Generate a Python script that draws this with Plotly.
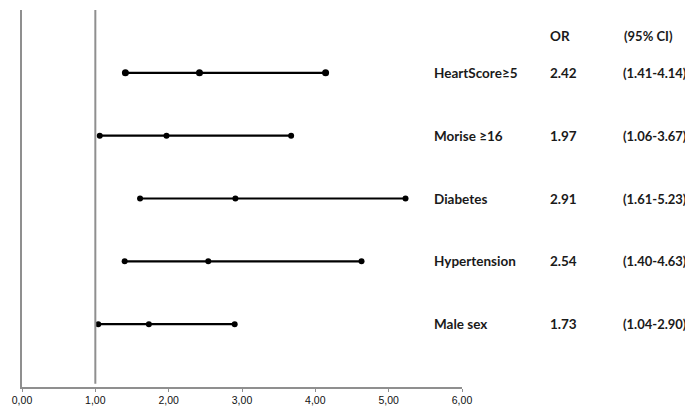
import plotly.graph_objects as go

labels = ["HeartScore≥5", "Morise ≥16", "Diabetes", "Hypertension", "Male sex"]
odds = [2.42, 1.97, 2.91, 2.54, 1.73]
ci_low = [1.41, 1.06, 1.61, 1.40, 1.04]
ci_high = [4.14, 3.67, 5.23, 4.63, 2.90]
or_text = ["2.42", "1.97", "2.91", "2.54", "1.73"]
ci_text = ["(1.41-4.14)", "(1.06-3.67)", "(1.61-5.23)", "(1.40-4.63)", "(1.04-2.90)"]
tick_vals = [0, 1, 2, 3, 4, 5, 6]
tick_text = ["0,00", "1,00", "2,00", "3,00", "4,00", "5,00", "6,00"]

n = len(labels)
rows = [n - i for i in range(n)]

fig = go.Figure()
for i in range(n):
    fig.add_trace(go.Scatter(
        x=[ci_low[i], odds[i], ci_high[i]], y=[rows[i]] * 3,
        mode="lines+markers",
        line=dict(color="black", width=2.2),
        marker=dict(color="black", size=7 if i == 0 else 6),
        showlegend=False, hoverinfo="skip", cliponaxis=False,
    ))

fig.add_shape(type="line", x0=1, x1=1, y0=0.05, y1=6, xref="x", yref="y",
              line=dict(color="#8f8f8f", width=2))

tfont = dict(family="Lato, Carlito, Calibri, sans-serif", size=13.5, color="#1a1a1a")
cfont = dict(family="Lato, Carlito, Calibri, sans-serif", size=13, color="#1a1a1a")
PW = 440.0
X0 = 22.0
for i in range(n):
    fig.add_annotation(x=(432 - X0) / PW, y=rows[i], xref="paper", yref="y",
                       text="<b>%s</b>" % labels[i], showarrow=False,
                       xanchor="left", yanchor="middle", font=tfont)
    fig.add_annotation(x=(548 - X0) / PW, y=rows[i], xref="paper", yref="y",
                       text="<b>%s</b>" % or_text[i], showarrow=False,
                       xanchor="left", yanchor="middle", font=tfont)
    fig.add_annotation(x=(689 - X0) / PW, y=rows[i], xref="paper", yref="y",
                       text="<b>%s</b>" % ci_text[i], showarrow=False,
                       xanchor="right", yanchor="middle", font=cfont)
fig.add_annotation(x=(548 - X0) / PW, y=5.58, xref="paper", yref="y",
                   text="<b>OR</b>", showarrow=False, xanchor="left",
                   yanchor="middle", font=tfont)
fig.add_annotation(x=(622 - X0) / PW, y=5.58, xref="paper", yref="y",
                   text="<b>(95% CI)</b>", showarrow=False, xanchor="left",
                   yanchor="middle", font=cfont)

# page body has an 8px margin, so shift the figure by -8px
fig.update_layout(
    width=685, height=399,
    margin=dict(l=14, r=231, t=2, b=20),
    paper_bgcolor="white", plot_bgcolor="white",
    xaxis=dict(range=[0, 6], tickvals=tick_vals, ticktext=tick_text,
               showgrid=False, zeroline=False, showline=True,
               linecolor="#8f8f8f", linewidth=1.5, ticks="outside",
               ticklen=3, tickcolor="#8f8f8f",
               tickfont=dict(family="Liberation Sans, Arial", size=10.5, color="#111")),
    yaxis=dict(range=[0, 6], showgrid=False, zeroline=False, showline=True,
               linecolor="#8f8f8f", linewidth=2, showticklabels=False, ticks=""),
)

fig.write_html("out.html")
